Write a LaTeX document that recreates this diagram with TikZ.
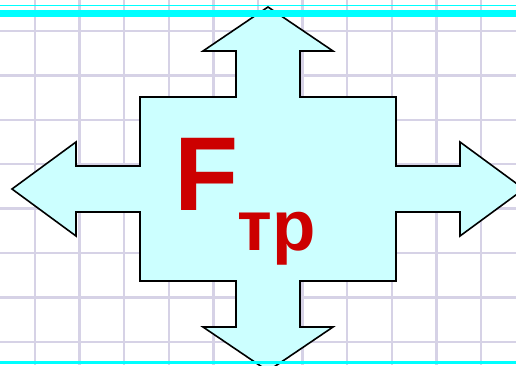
\documentclass[tikz,border=0pt]{standalone}
\usepackage{fontspec}
\setmainfont{Liberation Sans}
\definecolor{pale}{HTML}{CCFFFF}
\definecolor{gridline}{HTML}{D6D2E6}
\definecolor{band}{HTML}{00FFFF}
\definecolor{deepred}{HTML}{CC0000}
\begin{document}
\begin{tikzpicture}[
  x=1pt, y=-1pt,
  gridl/.style={draw=gridline, line width=2.4pt},
  cross/.style={draw=black, fill=pale, line width=1.6pt, line join=miter},
  bandl/.style={fill=band},
  lbl/.style={text=deepred, font=\bfseries, inner sep=0pt, anchor=base west}
]
\fill[white] (0,0) rectangle (516,365);
\useasboundingbox (0,0) rectangle (516,365);
\clip (0,0) rectangle (516,365);

\foreach \i in {0,...,10}
  \draw[gridl] ({35+44.6*\i},0) -- ({35+44.6*\i},365);
\foreach \j in {0,...,7}
  \draw[gridl] (0,{31+44.4*\j}) -- (516,{31+44.4*\j});

\draw[cross] (268,7) -- (333,51) -- (300,51) -- (300,97) -- (396,97)
  -- (396,166) -- (460,166) -- (460,142) -- (524,189) -- (460,236)
  -- (460,212) -- (396,212) -- (396,281) -- (300,281) -- (300,327)
  -- (333,327) -- (268,371) -- (203,327) -- (236,327) -- (236,281)
  -- (140,281) -- (140,212) -- (76,212) -- (76,236) -- (12,189)
  -- (76,142) -- (76,166) -- (140,166) -- (140,97) -- (236,97)
  -- (236,51) -- (203,51) -- cycle;

\node[lbl, font=\bfseries\fontsize{105}{105}\selectfont] (force) at (174,210) {F};
\node[lbl, font=\bfseries\fontsize{71}{71}\selectfont] (sub) at (237.5,250) {тр};

\fill[bandl] (0,4.5) rectangle (516,6);
\fill[bandl] (0,9.7) rectangle (516,16.5);
\fill[bandl] (0,360.8) rectangle (516,364);
\end{tikzpicture}
\end{document}
